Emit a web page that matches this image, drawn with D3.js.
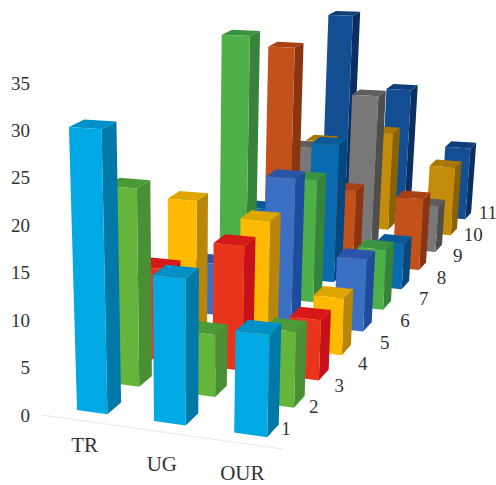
<!DOCTYPE html>
<html>
<head>
<meta charset="utf-8">
<script src="https://cdn.jsdelivr.net/npm/d3@7"></script>
<style>
  html, body { margin: 0; padding: 0; background: #fff; }
  text { font-family: "Liberation Serif", serif; font-size: 19px; fill: #333; }
  .cat-label { font-size: 21px; }
</style>
</head>
<body>
<div id="chart"></div>
<script>
  const width = 496, height = 485;

  const categories = ["TR", "UG", "OUR"];
  const seriesNames = ["1", "2", "3", "4", "5", "6", "7", "8", "9", "10", "11"];
  const yTicks = [0, 5, 10, 15, 20, 25, 30, 35];

  // values, front row (1) to back row (11)
  const valuesTR = [30.8, 22.6, 11.1, 16.8, 6.6, 32.7, 9, 28.3, 13.2, 12.1, 28.3];
  const valuesUG = [16.2, 7.2, 14.7, 15.2, 18, 15.7, 18.1, 10, 20.8, 13.9, 18.2];
  const valuesOUR = [11.2, 8.6, 7.1, 6.9, 9, 7.7, 6, 9.6, 6.4, 9.7, 10.4];

  const frontColors = ["#00a9e4", "#65b53c", "#e8341c", "#ffba00", "#3a6fc4", "#4db048", "#0a6ab0", "#c2521a", "#787878", "#c48c08", "#134e92"];
  const sideColors = ["#0078a8", "#4a8f34", "#c8101a", "#b8860a", "#1d4b9e", "#36843a", "#07477f", "#8a3510", "#4e4e4e", "#8a6205", "#0b2f62"];
  const topColors = ["#0090c8", "#4a9a38", "#d81818", "#dfa500", "#2a55a8", "#3b9240", "#085a98", "#a94212", "#5e5e5e", "#a87806", "#0e3d78"];

  const allValues = [valuesTR, valuesUG, valuesOUR];

  // scales: category / series position on the floor, value to height
  const catPos = d3.scalePoint().domain(categories).range([0, 2]);
  const seriesPos = d3.scalePoint().domain(seriesNames).range([0, 10]);
  const yAxisScale = d3.scaleLinear().domain([0, 35]).range([415, 83]);
  const lift = d3.scaleLinear().domain([0, 35]).range([0, -331.8]);

  // label placement, the original's labels don't follow the floor exactly
  const catDrop = d3.scaleOrdinal().domain(categories).range([34, 42, 40]);
  const seriesLabelY = d3.scalePoint().domain(seriesNames).range([429, 213]);

  const barW = 0.4, barD = 0.42;

  // perspective: c along categories, s along series, v = value
  function project(c, s, v) {
    const w = 1 - 0.02 * c + 0.039 * s - 0.0023 * v;
    const x = 77 + 73.9 * c + 37 * s - 0.42 * v;
    const y = 410 + 2.6 * c - 12.2 * s + lift(v);
    return [x / w, y / w];
  }

  const svg = d3.select("#chart").append("svg")
    .attr("width", width)
    .attr("height", height)
    .attr("viewBox", `0 0 ${width} ${height}`)
    .style("display", "block");

  // floor edge
  svg.append("line")
    .attr("x1", 42).attr("y1", 415)
    .attr("x2", 283).attr("y2", 449)
    .attr("stroke", "#e8e8e8")
    .attr("stroke-width", 1);

  // back rows first so the front rows cover them
  const bars = [];
  seriesNames.slice().reverse().forEach(sName => {
    const si = seriesNames.indexOf(sName);
    categories.forEach((cName, ci) => {
      bars.push({ c: catPos(cName), s: seriesPos(sName), v: allValues[ci][si], si });
    });
  });

  const toPoints = pts => pts.map(p => p.join(",")).join(" ");

  const barG = svg.append("g").selectAll("g")
    .data(bars)
    .join("g");

  barG.append("polygon")
    .attr("fill", d => sideColors[d.si])
    .attr("points", d => toPoints([
      project(d.c + barW, d.s, 0), project(d.c + barW, d.s + barD, 0),
      project(d.c + barW, d.s + barD, d.v), project(d.c + barW, d.s, d.v)
    ]));

  barG.append("polygon")
    .attr("fill", d => topColors[d.si])
    .attr("points", d => toPoints([
      project(d.c, d.s, d.v), project(d.c + barW, d.s, d.v),
      project(d.c + barW, d.s + barD, d.v), project(d.c, d.s + barD, d.v)
    ]));

  barG.append("polygon")
    .attr("fill", d => frontColors[d.si])
    .attr("points", d => toPoints([
      project(d.c, d.s, 0), project(d.c + barW, d.s, 0),
      project(d.c + barW, d.s, d.v), project(d.c, d.s, d.v)
    ]));

  // value axis
  const yAxis = svg.append("g")
    .attr("transform", "translate(30,0)")
    .call(d3.axisLeft(yAxisScale).tickValues(yTicks).tickSize(0).tickPadding(0));
  yAxis.select(".domain").remove();
  yAxis.attr("font-family", null).attr("font-size", null);

  // category labels under the front row
  svg.append("g").selectAll("text")
    .data(categories)
    .join("text")
    .attr("class", "cat-label")
    .attr("text-anchor", "middle")
    .attr("dy", "0.32em")
    .attr("x", d => project(catPos(d) + 0.1, 0, 0)[0])
    .attr("y", d => project(catPos(d) + 0.1, 0, 0)[1] + catDrop(d))
    .text(d => d);

  // series labels along the right edge
  svg.append("g").selectAll("text")
    .data(seriesNames)
    .join("text")
    .attr("class", "series-label")
    .attr("text-anchor", "middle")
    .attr("dy", "0.32em")
    .attr("x", d => project(2.6, seriesPos(d) * 1.06, 0)[0] + 2)
    .attr("y", d => seriesLabelY(d))
    .text(d => d);
</script>
</body>
</html>
